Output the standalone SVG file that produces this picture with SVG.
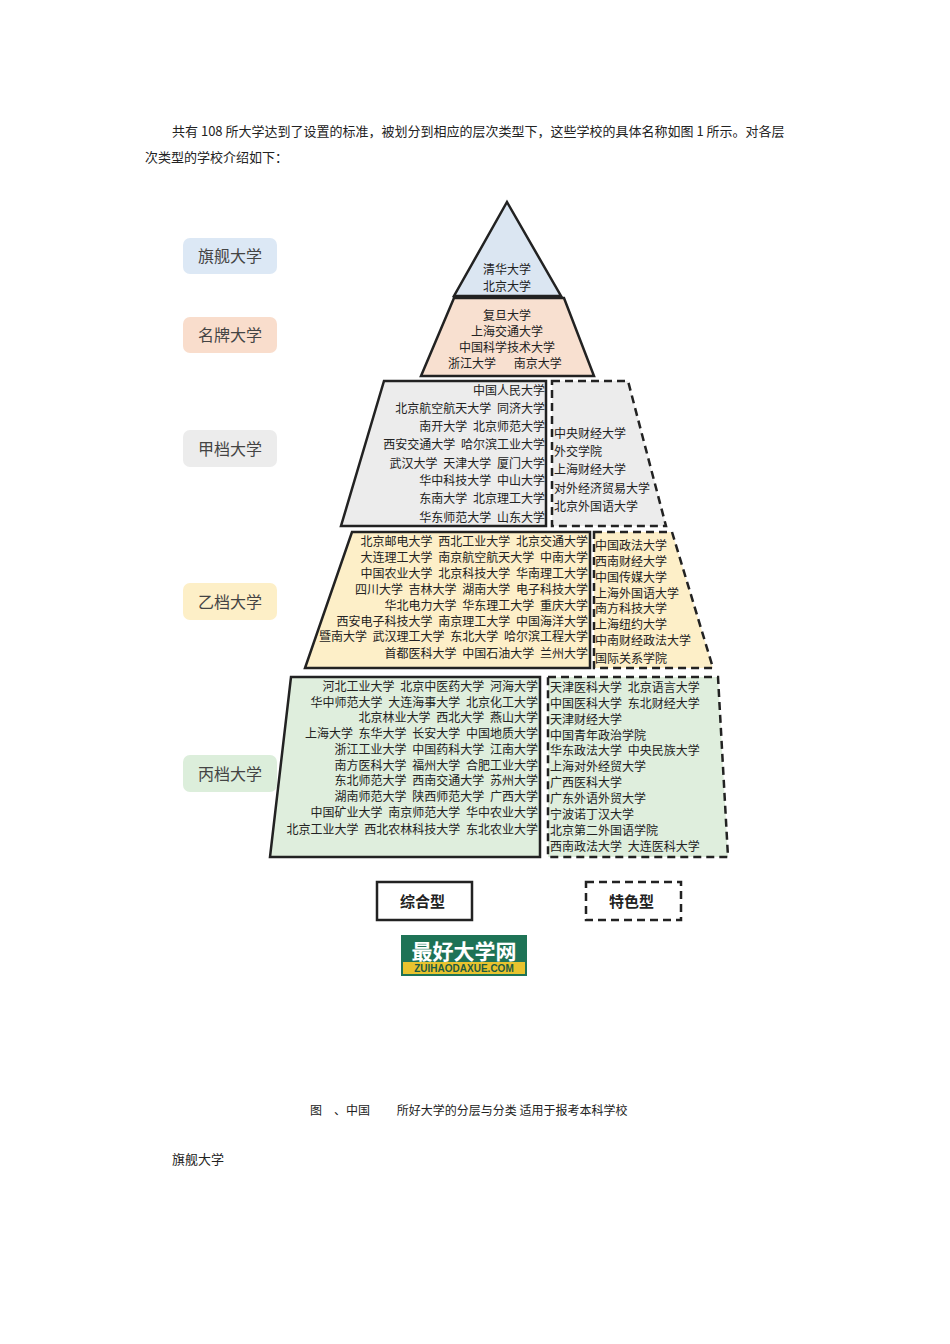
<svg xmlns="http://www.w3.org/2000/svg" width="950" height="1344" viewBox="0 0 950 1344">
<style>
text{font-family:"Noto Sans CJK SC","Noto Sans",sans-serif;fill:#222}
.p{font-size:13px}
.t{font-size:12px;word-spacing:3px}
.r{text-anchor:end}
.lab{font-size:16px;fill:#444}
.s{stroke:#222;stroke-width:2.5}
.d{stroke:#222;stroke-width:2.5;stroke-dasharray:8,5}
</style>
<rect width="950" height="1344" fill="#fff"/>
<text class="p" x="172" y="136">共有 108 所大学达到了设置的标准，被划分到相应的层次类型下，这些学校的具体名称如图 1 所示。对各层</text>
<text class="p" x="145" y="162">次类型的学校介绍如下：</text>

<g id="label-qijian"><rect x="183" y="238" width="94" height="36" rx="7" fill="#dce8f5"/><text class="lab" x="198" y="262">旗舰大学</text></g>
<g id="label-mingpai"><rect x="183" y="317" width="94" height="36" rx="7" fill="#f9ddcc"/><text class="lab" x="198" y="341">名牌大学</text></g>
<g id="label-jiadang"><rect x="183" y="430" width="94" height="37" rx="7" fill="#ececec"/><text class="lab" x="198" y="455">甲档大学</text></g>
<g id="label-yidang"><rect x="183" y="583" width="94" height="37" rx="7" fill="#fdefc7"/><text class="lab" x="198" y="608">乙档大学</text></g>
<g id="label-bingdang"><rect x="183" y="755" width="94" height="37" rx="7" fill="#dceedb"/><text class="lab" x="198" y="780">丙档大学</text></g>

<g id="tier1"><polygon points="507,202 561,296 454,296" fill="#dbe6f2" class="s"/>
<text class="t" x="483" y="274">清华大学</text><text class="t" x="483" y="291">北京大学</text></g>

<g id="tier2"><polygon points="454,298 564,298 594,376 421,376" fill="#f8e0d0" class="s"/>
<text class="t" text-anchor="middle" x="507" y="320">复旦大学</text>
<text class="t" text-anchor="middle" x="507" y="336">上海交通大学</text>
<text class="t" text-anchor="middle" x="507" y="352">中国科学技术大学</text>
<text class="t" x="448" y="368">浙江大学　 南京大学</text></g>

<g id="tier3-solid"><polygon points="384,381 546,381 546,526 341,526" fill="#ececec" class="s"/>
<text class="t r" x="545" y="395">中国人民大学</text>
<text class="t r" x="545" y="413">北京航空航天大学 同济大学</text>
<text class="t r" x="545" y="431">南开大学 北京师范大学</text>
<text class="t r" x="545" y="449">西安交通大学 哈尔滨工业大学</text>
<text class="t r" x="545" y="468">武汉大学 天津大学 厦门大学</text>
<text class="t r" x="545" y="485">华中科技大学 中山大学</text>
<text class="t r" x="545" y="503">东南大学 北京理工大学</text>
<text class="t r" x="545" y="522">华东师范大学 山东大学</text></g>
<g id="tier3-dashed"><polygon points="552,381 628,381 666,526 552,526" fill="#ececec" class="d"/>
<text class="t" x="554" y="438">中央财经大学</text>
<text class="t" x="554" y="456">外交学院</text>
<text class="t" x="554" y="474">上海财经大学</text>
<text class="t" x="554" y="493">对外经济贸易大学</text>
<text class="t" x="554" y="511">北京外国语大学</text></g>

<g id="tier4-solid"><polygon points="352,532 590,532 590,668 305,668" fill="#fdefc8" class="s"/>
<text class="t r" x="588" y="546">北京邮电大学 西北工业大学 北京交通大学</text>
<text class="t r" x="588" y="562">大连理工大学 南京航空航天大学 中南大学</text>
<text class="t r" x="588" y="578">中国农业大学 北京科技大学 华南理工大学</text>
<text class="t r" x="588" y="594">四川大学 吉林大学 湖南大学 电子科技大学</text>
<text class="t r" x="588" y="610">华北电力大学 华东理工大学 重庆大学</text>
<text class="t r" x="588" y="626">西安电子科技大学 南京理工大学 中国海洋大学</text>
<text class="t r" x="588" y="641">暨南大学 武汉理工大学 东北大学 哈尔滨工程大学</text>
<text class="t r" x="588" y="658">首都医科大学 中国石油大学 兰州大学</text></g>
<g id="tier4-dashed"><polygon points="594,532 672,532 713,668 594,668" fill="#fdefc8" class="d"/>
<text class="t" x="595" y="550">中国政法大学</text>
<text class="t" x="595" y="566">西南财经大学</text>
<text class="t" x="595" y="582">中国传媒大学</text>
<text class="t" x="595" y="598">上海外国语大学</text>
<text class="t" x="595" y="613">南方科技大学</text>
<text class="t" x="595" y="629">上海纽约大学</text>
<text class="t" x="595" y="645">中南财经政法大学</text>
<text class="t" x="595" y="663">国际关系学院</text></g>

<g id="tier5-solid"><polygon points="291,677 540,677 540,857 270,857" fill="#dfeedd" class="s"/>
<text class="t r" x="538" y="691">河北工业大学 北京中医药大学 河海大学</text>
<text class="t r" x="538" y="707">华中师范大学 大连海事大学 北京化工大学</text>
<text class="t r" x="538" y="722">北京林业大学 西北大学 燕山大学</text>
<text class="t r" x="538" y="738">上海大学 东华大学 长安大学 中国地质大学</text>
<text class="t r" x="538" y="754">浙江工业大学 中国药科大学 江南大学</text>
<text class="t r" x="538" y="770">南方医科大学 福州大学 合肥工业大学</text>
<text class="t r" x="538" y="785">东北师范大学 西南交通大学 苏州大学</text>
<text class="t r" x="538" y="801">湖南师范大学 陕西师范大学 广西大学</text>
<text class="t r" x="538" y="817">中国矿业大学 南京师范大学 华中农业大学</text>
<text class="t r" x="538" y="834">北京工业大学 西北农林科技大学 东北农业大学</text></g>
<g id="tier5-dashed"><polygon points="548,677 718,677 728,857 548,857" fill="#dfeedd" class="d"/>
<text class="t" x="550" y="692">天津医科大学 北京语言大学</text>
<text class="t" x="550" y="708">中国医科大学 东北财经大学</text>
<text class="t" x="550" y="724">天津财经大学</text>
<text class="t" x="550" y="740">中国青年政治学院</text>
<text class="t" x="550" y="755">华东政法大学 中央民族大学</text>
<text class="t" x="550" y="771">上海对外经贸大学</text>
<text class="t" x="550" y="787">广西医科大学</text>
<text class="t" x="550" y="803">广东外语外贸大学</text>
<text class="t" x="550" y="819">宁波诺丁汉大学</text>
<text class="t" x="550" y="835">北京第二外国语学院</text>
<text class="t" x="550" y="851">西南政法大学 大连医科大学</text></g>

<g id="legend-zonghe"><rect x="377" y="882" width="95" height="38" fill="#fff" class="s"/><text x="400" y="907" style="font-size:15px;font-weight:bold">综合型</text></g>
<g id="legend-tese"><rect x="586" y="882" width="95" height="38" fill="#fff" class="d"/><text x="609" y="907" style="font-size:15px;font-weight:bold">特色型</text></g>

<g id="logo"><rect x="401" y="935" width="126" height="41" fill="#1e7356"/><rect x="403" y="962" width="122" height="12" fill="#e8c32e"/>
<text x="464" y="959" text-anchor="middle" style="font-size:21px;fill:#fff;font-weight:bold">最好大学网</text>
<text x="464" y="972" text-anchor="middle" style="font-size:10px;fill:#1e5a40;font-weight:bold;font-family:'Liberation Sans',sans-serif">ZUIHAODAXUE.COM</text></g>

<text x="310" y="1115" style="font-size:12px">图　、中国　　 所好大学的分层与分类 适用于报考本科学校</text>
<text class="p" x="172" y="1164">旗舰大学</text>
</svg>
